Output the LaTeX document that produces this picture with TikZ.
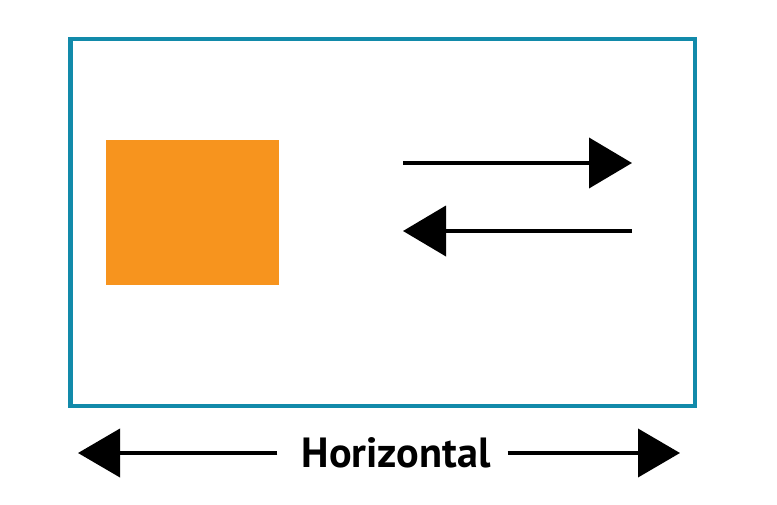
\documentclass[tikz,border=0pt]{standalone}
\usepackage{fontspec}
\setmainfont{PT Sans}
\usetikzlibrary{arrows.meta, positioning}
\definecolor{FrameBlue}{RGB}{18,138,170}
\definecolor{BoxOrange}{RGB}{247,148,30}
\tikzstyle{frame} = [draw=FrameBlue, line width=0.13cm]
\tikzstyle{square} = [rectangle, fill=BoxOrange, minimum width=5.19cm, minimum height=4.35cm, inner sep=0pt]
\tikzstyle{arrow} = [line width=0.12cm, -{Triangle[length=1.29cm, width=1.5cm]}]
\tikzstyle{bigarrow} = [line width=0.12cm, -{Triangle[length=1.26cm, width=1.44cm]}]
\tikzstyle{label} = [font=\fontsize{36}{42}\selectfont\bfseries, inner sep=0pt]

\begin{document}
\begin{tikzpicture}[x=0.03cm, y=-0.03cm]
    \useasboundingbox (0,0) rectangle (777,505);
    \draw [frame] (70.5,39) rectangle (695,406);
    \node (box) [square] at (192.7,212.7) {};

    \coordinate (r1) at (403,163);
    \coordinate (r2) at (632,163);
    \coordinate (l1) at (632,231);
    \coordinate (l2) at (403,231);
    \draw [arrow] (r1) -- (r2);
    \draw [arrow] (l1) -- (l2);

    \node (hz) [label, anchor=base] at (396,467) {Horizontal};
    \coordinate (left) at (78,453);
    \coordinate (right) at (680,453);
    \draw [bigarrow] ([xshift=-0.72cm]hz.west |- left) -- (left);
    \draw [bigarrow] ([xshift=0.51cm]hz.east |- right) -- (right);
\end{tikzpicture}
\end{document}
